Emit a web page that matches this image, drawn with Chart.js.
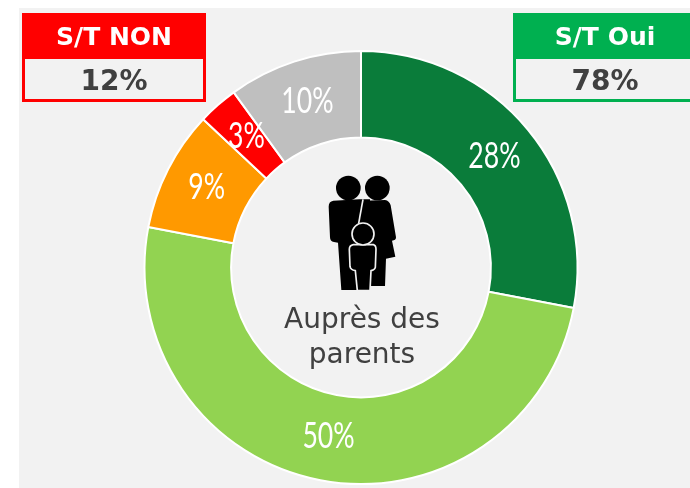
<!DOCTYPE html>
<html>
<head>
<meta charset="utf-8">
<script src="https://cdn.jsdelivr.net/npm/chart.js@4"></script>
<style>
  html, body { margin: 0; padding: 0; background: #fff; }
  #page { position: relative; width: 690px; height: 488px; overflow: hidden; font-family: "DejaVu Sans", sans-serif; }
  #plot { position: absolute; left: 19px; top: 8px; width: 671px; height: 480px; background: #f2f2f2; }
  #wrap { position: absolute; left: 0; top: 0; width: 690px; height: 488px; }
  .box { position: absolute; top: 13px; height: 89px; box-sizing: border-box; border: 3px solid; text-align: center; }
  .box .head { height: 43px; line-height: 42px; color: #fff; font-weight: bold; font-size: 25px; }
  .box .val { line-height: 43px; color: #404040; font-weight: bold; font-size: 28px; }
  #non { left: 22px; width: 184px; border-color: #ff0000; }
  #non .head { background: #ff0000; }
  #oui { left: 513px; width: 184px; border-color: #00b050; }
  #oui .head { background: #00b050; }
  #center { position: absolute; left: 262px; top: 301px; width: 200px; text-align: center; color: #404040; font-size: 28px; line-height: 35px; }
  #icon { position: absolute; left: 270px; top: 160px; }
</style>
</head>
<body>
<div id="page">
  <div id="plot"></div>
  <div id="wrap"><canvas id="chart" width="690" height="488"></canvas></div>
  <div class="box" id="non"><div class="head">S/T NON</div><div class="val">12%</div></div>
  <div class="box" id="oui"><div class="head">S/T Oui</div><div class="val">78%</div></div>
  <svg id="icon" width="180" height="220" viewBox="0 0 540 660">
    <circle cx="235" cy="84" r="37" fill="#000"/>
    <circle cx="322" cy="84" r="37" fill="#000"/>
    <path d="M190 122 L268 118 L300 118 L300 390 L214 390 L204 248 L192 246 Q180 244 180 232 L176 140 Q176 124 190 122 Z" fill="#000"/>
    <path d="M285 122 L345 120 Q358 122 362 136 L378 232 Q378 242 366 242 L376 290 L348 296 L345 378 L290 378 Z" fill="#000"/>
    <path d="M279 118 L266 190" fill="none" stroke="#f2f2f2" stroke-width="5"/>
    <path d="M250 254 L310 254 Q318 256 318 268 L316 322 Q314 330 303 332 L300 392 L262 392 L256 332 Q242 330 240 320 L238 268 Q238 256 250 254 Z" fill="#000" stroke="#f2f2f2" stroke-width="5"/>
    <circle cx="279" cy="222" r="33" fill="#000" stroke="#f2f2f2" stroke-width="5"/>
  </svg>
  <div id="center">Auprès des<br>parents</div>
</div>
<script>
var categories = ['Tout à fait oui', 'Plutôt oui', 'Plutôt non', 'Pas du tout', 'Ne sait pas'];
var shares = [28, 50, 9, 3, 10];
var sliceColors = ['#0a7c3a', '#92d351', '#ff9900', '#ff0000', '#bfbfbf'];

// percent labels in the middle of each ring slice, squeezed to look like a narrow font
var sliceLabels = {
    id: 'sliceLabels',
    afterDatasetsDraw: function(chart) {
        var ctx = chart.ctx;
        var arcs = chart.getDatasetMeta(0).data;
        ctx.save();
        ctx.fillStyle = '#fff';
        ctx.font = '400 36px Lato, "Liberation Sans", sans-serif';
        ctx.textAlign = 'center';
        ctx.textBaseline = 'middle';
        for (var i = 0; i < arcs.length; i++) {
            var p = arcs[i].getCenterPoint();
            ctx.save();
            ctx.translate(p.x, p.y - 1);
            ctx.scale(0.74, 1);
            ctx.fillText(shares[i] + '%', 0, 0);
            ctx.restore();
        }
        ctx.restore();
    }
};

var ctx = document.getElementById('chart').getContext('2d');
var myChart = new Chart(ctx, {
    type: 'doughnut',
    plugins: [sliceLabels],
    data: {
        labels: categories,
        datasets: [{
            data: shares,
            backgroundColor: sliceColors,
            borderColor: '#ffffff',
            borderWidth: 2,
        }],
    },
    options: {
        responsive: false,
        animation: false,
        cutout: '60%',
        layout: { padding: { left: 143, right: 111, top: 50, bottom: 3 } },
        plugins: {
            legend: { display: false },
            tooltip: { enabled: false },
        },
    },
});
</script>
</body>
</html>
